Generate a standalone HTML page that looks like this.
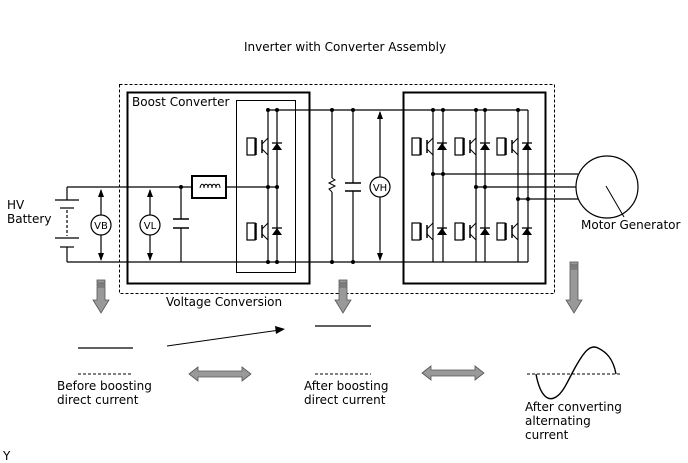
<!DOCTYPE html>
<html><head><meta charset="utf-8"><style>
html,body{margin:0;padding:0;background:#fff;}
svg{display:block;font-family:"DejaVu Sans","Liberation Sans",sans-serif;}
</style></head><body>
<svg width="688" height="463" viewBox="0 0 688 463" xmlns="http://www.w3.org/2000/svg">
<defs>
<g id="sw">
 <rect x="-21" y="-8" width="8" height="17" fill="#fff" stroke="#000" stroke-width="1.2"/>
 <line x1="-12" y1="-8" x2="-12" y2="9" stroke="#000" stroke-width="1.5"/>
 <line x1="-6" y1="-6" x2="-6" y2="7" stroke="#000" stroke-width="1.5"/>
 <line x1="-6" y1="-2" x2="0" y2="-8" stroke="#000"/>
 <line x1="-6" y1="3" x2="0" y2="9" stroke="#000"/>
 <polygon points="4,4 14,4 9,-3" fill="#000"/>
 <line x1="4" y1="-3" x2="14" y2="-3" stroke="#000" stroke-width="1.3"/>
</g>
</defs>
<g stroke="#000" fill="none" stroke-width="1.2">
<rect x="119.5" y="84.5" width="435" height="209" stroke-dasharray="3,2" stroke-width="1"/>
<rect x="127.5" y="92.5" width="182" height="191" stroke-width="2"/>
<rect x="236.5" y="100.5" width="59" height="172" stroke-width="1"/>
<rect x="403.5" y="92.5" width="142" height="191" stroke-width="2"/>
<line x1="268" y1="110" x2="528" y2="110"/>
<line x1="67" y1="262" x2="528" y2="262"/>
<line x1="67" y1="187" x2="277" y2="187"/>
<line x1="67" y1="187" x2="67" y2="200"/>
<line x1="67" y1="247" x2="67" y2="262"/>
<line x1="55" y1="200" x2="79" y2="200"/>
<line x1="60" y1="208" x2="74" y2="208"/>
<line x1="67" y1="210" x2="67" y2="236" stroke-dasharray="3,2"/>
<line x1="55" y1="238" x2="79" y2="238"/>
<line x1="60" y1="247" x2="74" y2="247"/>
<line x1="101" y1="190" x2="101" y2="260"/>
<line x1="150" y1="190" x2="150" y2="260"/>
<circle cx="101" cy="225" r="10" fill="#fff"/>
<circle cx="150" cy="225" r="10" fill="#fff"/>
<line x1="181" y1="187" x2="181" y2="219"/><line x1="181" y1="228" x2="181" y2="262"/>
<line x1="173" y1="219" x2="189" y2="219" stroke-width="1.5"/><line x1="173" y1="228" x2="189" y2="228" stroke-width="1.5"/>
<rect x="192" y="176" width="34" height="22" fill="#fff" stroke-width="2"/>
<path d="M200,188 c1,-5 4,-5 4,0 c0,-5 4,-5 4,0 c0,-5 4,-5 4,0 c0,-5 4,-5 4,0 c0,-5 4,-5 4,0" stroke-width="1"/>
<line x1="268" y1="110" x2="268" y2="262"/>
<line x1="277" y1="110" x2="277" y2="262"/>
<line x1="332" y1="110" x2="332" y2="178"/><line x1="332" y1="192" x2="332" y2="262"/>
<polyline points="332,178 335,180 329,183 335,186 329,189 332,192" stroke-width="1"/>
<line x1="353" y1="110" x2="353" y2="183"/><line x1="353" y1="191" x2="353" y2="262"/>
<line x1="345" y1="183" x2="361" y2="183" stroke-width="1.5"/><line x1="345" y1="191" x2="361" y2="191" stroke-width="1.5"/>
<line x1="380" y1="112" x2="380" y2="260"/>
<circle cx="380" cy="187" r="10" fill="#fff"/>
<line x1="433" y1="110" x2="433" y2="262"/><line x1="443" y1="110" x2="443" y2="262"/>
<line x1="476" y1="110" x2="476" y2="262"/><line x1="485" y1="110" x2="485" y2="262"/>
<line x1="518" y1="110" x2="518" y2="262"/><line x1="528" y1="110" x2="528" y2="262"/>
<line x1="433" y1="174" x2="578" y2="174"/>
<line x1="476" y1="187" x2="577" y2="187"/>
<line x1="518" y1="199" x2="579" y2="199"/>
<circle cx="607" cy="187" r="31" fill="#fff"/>
<line x1="606" y1="186" x2="624" y2="217" stroke-width="1"/>
<line x1="78" y1="348" x2="133" y2="348"/>
<line x1="78" y1="374" x2="133" y2="374" stroke-dasharray="3,2" stroke-width="1"/>
<line x1="315" y1="326" x2="371" y2="326"/>
<line x1="315" y1="374" x2="371" y2="374" stroke-dasharray="3,2" stroke-width="1"/>
<line x1="167" y1="346" x2="280" y2="330" stroke-width="1"/>
<line x1="527" y1="374" x2="622" y2="374" stroke-dasharray="3,2" stroke-width="1"/>
<path d="M536,374 C540,396 548,402 556,397 C564,392 568,380 576,366 C584,352 590,344 598,348 C606,352 613,358 616,374" stroke-width="1.4"/>
</g>
<polygon points="285,329 275,326 276,334" fill="#000"/>
<g fill="#000">
<polygon points="101,189 98,197 104,197"/><polygon points="101,261 98,253 104,253"/>
<polygon points="150,189 147,197 153,197"/><polygon points="150,261 147,253 153,253"/>
<polygon points="380,111 377,119 383,119"/><polygon points="380,261 377,253 383,253"/>
</g>
<g fill="#000">
<circle cx="181" cy="187" r="2"/><circle cx="268" cy="110" r="2"/><circle cx="277" cy="110" r="2"/>
<circle cx="268" cy="187" r="2"/><circle cx="277" cy="187" r="2"/><circle cx="268" cy="262" r="2"/><circle cx="277" cy="262" r="2"/>
<circle cx="332" cy="110" r="2"/><circle cx="353" cy="110" r="2"/><circle cx="332" cy="262" r="2"/><circle cx="353" cy="262" r="2"/>
<circle cx="433" cy="110" r="2"/><circle cx="443" cy="110" r="2"/><circle cx="476" cy="110" r="2"/><circle cx="485" cy="110" r="2"/><circle cx="518" cy="110" r="2"/>
<circle cx="433" cy="174" r="2"/><circle cx="443" cy="174" r="2"/><circle cx="476" cy="187" r="2"/><circle cx="485" cy="187" r="2"/><circle cx="518" cy="199" r="2"/><circle cx="528" cy="199" r="2"/>
</g>
<use href="#sw" x="268" y="146"/><use href="#sw" x="268" y="231"/>
<use href="#sw" x="433" y="146"/><use href="#sw" x="433" y="231"/>
<use href="#sw" x="476" y="146"/><use href="#sw" x="476" y="231"/>
<use href="#sw" x="518" y="146"/><use href="#sw" x="518" y="231"/>
<g fill="#999" stroke="#555" stroke-width="0.8">
<rect x="97" y="280" width="8" height="3"/><rect x="97" y="284" width="8" height="2"/>
<polygon points="97,287 105,287 105,300 109,300 101,313 93,300 97,300"/>
<rect x="339" y="280" width="8" height="3"/><rect x="339" y="284" width="8" height="2"/>
<polygon points="339,287 347,287 347,300 351,300 343,313 335,300 339,300"/>
<rect x="570" y="262" width="8" height="3"/><rect x="570" y="266" width="8" height="2"/>
<polygon points="570,269 578,269 578,300 582,300 574,313 566,300 570,300"/>
<polygon points="189,374 198,367 198,371 242,371 242,367 251,374 242,381 242,377 198,377 198,381"/>
<polygon points="422,373 431,366 431,370 475,370 475,366 484,373 475,380 475,376 431,376 431,380"/>
</g>
<g font-size="12" fill="#000">
<text x="244" y="51">Inverter with Converter Assembly</text>
<text x="132" y="106">Boost Converter</text>
<text x="7" y="209">HV</text><text x="7" y="223">Battery</text>
<text x="166" y="306">Voltage Conversion</text>
<text x="581" y="229">Motor Generator</text>
<text x="57" y="390">Before boosting</text><text x="57" y="404">direct current</text>
<text x="304" y="390">After boosting</text><text x="304" y="404">direct current</text>
<text x="525" y="411">After converting</text><text x="525" y="425">alternating</text><text x="525" y="439">current</text>
<text x="3" y="460">Y</text>
</g>
<g font-size="10" fill="#000" text-anchor="middle">
<text x="101" y="229">VB</text><text x="150" y="229">VL</text><text x="380" y="191">VH</text>
</g>
</svg>
</body></html>
